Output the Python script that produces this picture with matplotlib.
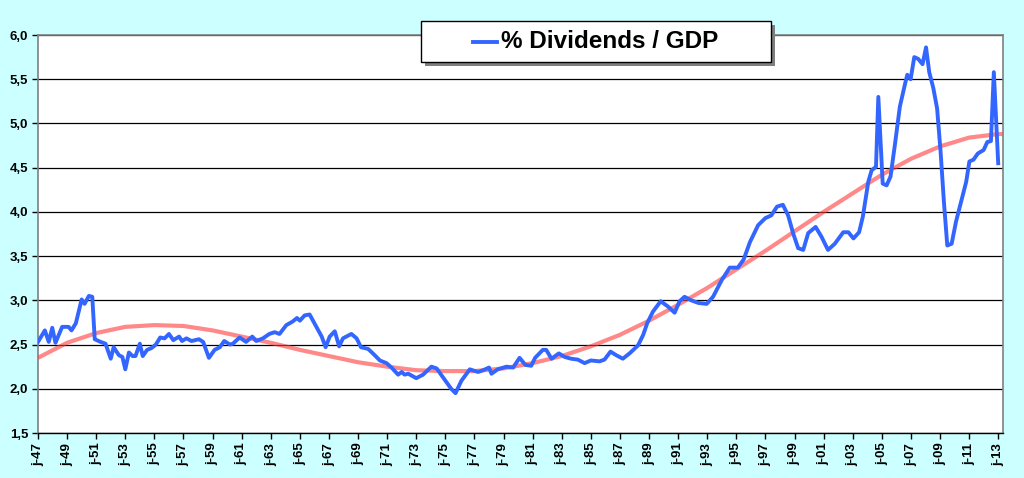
import matplotlib.pyplot as plt
from matplotlib.patches import Rectangle
from matplotlib.lines import Line2D

# blue series (decimal year, % of GDP)
div_years = [
    1947.0, 1947.47, 1947.74, 1947.98, 1948.2, 1948.66, 1949.1, 1949.3, 1949.6,
    1950.0, 1950.2, 1950.5, 1950.73, 1950.9, 1951.3, 1951.64, 1952.0, 1952.2,
    1952.56, 1952.8, 1953.0, 1953.25, 1953.5, 1953.7, 1954.0, 1954.2, 1954.5,
    1954.8, 1955.1, 1955.4, 1955.7, 1956.0, 1956.3, 1956.7, 1956.9, 1957.2,
    1957.55, 1958.06, 1958.35, 1958.75, 1959.14, 1959.5, 1959.8, 1960.2, 1960.4,
    1960.86, 1961.3, 1961.73, 1962.0, 1962.46, 1962.9, 1963.27, 1963.6, 1964.07,
    1964.5, 1964.8, 1965.0, 1965.33, 1965.67, 1966.13, 1966.5, 1966.77, 1967.05,
    1967.4, 1967.7, 1967.96, 1968.54, 1968.9, 1969.2, 1969.7, 1970.14, 1970.5,
    1970.95, 1971.3, 1971.75, 1972.0, 1972.2, 1972.45, 1973.0, 1973.47, 1974.04,
    1974.4, 1974.96, 1975.4, 1975.7, 1976.1, 1976.68, 1977.25, 1977.6, 1978.0,
    1978.17, 1978.6, 1979.2, 1979.66, 1980.1, 1980.5, 1980.9, 1981.17, 1981.7,
    1981.93, 1982.3, 1982.8, 1983.2, 1983.64, 1984.1, 1984.57, 1985.0, 1985.6,
    1985.94, 1986.35, 1986.74, 1987.2, 1987.66, 1988.24, 1988.6, 1988.87, 1989.26,
    1989.8, 1990.3, 1990.76, 1991.1, 1991.44, 1991.9, 1992.4, 1992.96, 1993.4,
    1994.0, 1994.55, 1995.1, 1995.5, 1995.94, 1996.5, 1997.0, 1997.4, 1997.8,
    1998.2, 1998.56, 1998.9, 1999.25, 1999.6, 1999.94, 2000.45, 2000.85, 2001.3,
    2001.77, 2002.35, 2002.7, 2003.05, 2003.44, 2003.7, 2004.07, 2004.3, 2004.6,
    2004.76, 2005.06, 2005.33, 2005.6, 2005.9, 2006.24, 2006.6, 2006.75, 2006.98,
    2007.23, 2007.5, 2007.8, 2008.04, 2008.26, 2008.54, 2008.8, 2009.04, 2009.27,
    2009.5, 2009.8, 2010.1, 2010.5, 2010.8, 2011.02, 2011.3, 2011.6, 2012.0,
    2012.25, 2012.5, 2012.7, 2013.0,
]
div_values = [
    2.53, 2.66, 2.53, 2.69, 2.52, 2.70, 2.70, 2.66, 2.74,
    3.01, 2.96, 3.05, 3.04, 2.56, 2.53, 2.51, 2.34, 2.47,
    2.38, 2.36, 2.22, 2.41, 2.37, 2.37, 2.51, 2.37, 2.44,
    2.46, 2.50, 2.58, 2.57, 2.62, 2.55, 2.59, 2.54, 2.57,
    2.54, 2.56, 2.53, 2.35, 2.44, 2.47, 2.54, 2.50, 2.51,
    2.58, 2.53, 2.59, 2.54, 2.57, 2.62, 2.64, 2.62, 2.72,
    2.76, 2.80, 2.77, 2.83, 2.84, 2.70, 2.59, 2.47, 2.59,
    2.65, 2.48, 2.57, 2.62, 2.57, 2.47, 2.45, 2.38, 2.32,
    2.29, 2.24, 2.16, 2.19, 2.16, 2.17, 2.12, 2.16, 2.25,
    2.23, 2.10, 2.00, 1.95, 2.09, 2.22, 2.19, 2.21, 2.24,
    2.17, 2.22, 2.25, 2.24, 2.35, 2.27, 2.26, 2.35, 2.44,
    2.44, 2.34, 2.40, 2.36, 2.34, 2.33, 2.29, 2.32, 2.31,
    2.33, 2.42, 2.38, 2.34, 2.40, 2.49, 2.61, 2.74, 2.87,
    2.99, 2.93, 2.86, 2.99, 3.04, 3.00, 2.97, 2.96, 3.04,
    3.23, 3.37, 3.37, 3.46, 3.66, 3.85, 3.93, 3.96, 4.06,
    4.08, 3.96, 3.76, 3.59, 3.57, 3.76, 3.83, 3.72, 3.57,
    3.64, 3.77, 3.77, 3.70, 3.77, 3.95, 4.34, 4.47, 4.51,
    5.30, 4.32, 4.30, 4.40, 4.76, 5.19, 5.45, 5.55, 5.50,
    5.75, 5.73, 5.67, 5.86, 5.58, 5.40, 5.17, 4.68, 4.11,
    3.62, 3.64, 3.89, 4.15, 4.34, 4.57, 4.59, 4.66, 4.70,
    4.79, 4.80, 5.58, 4.55,
]

# red trend line, read every two years
trend_years = list(range(1947, 2014, 2)) + [2013.3]
trend_values = [
    2.35, 2.52, 2.63, 2.70, 2.72, 2.71, 2.66, 2.59, 2.52, 2.44, 2.37, 2.30,
    2.25, 2.21, 2.20, 2.20, 2.23, 2.29, 2.37, 2.48, 2.61, 2.77, 2.95, 3.14,
    3.35, 3.56, 3.78, 4.00, 4.21, 4.42, 4.60, 4.74, 4.84, 4.88, 4.88,
]

tick_years = list(range(1947, 2014, 2))
tick_labels = ["j-%02d" % (y % 100) for y in tick_years]
y_ticks = [1.5, 2.0, 2.5, 3.0, 3.5, 4.0, 4.5, 5.0, 5.5, 6.0]
y_labels = [("%.1f" % v).replace(".", ",") for v in y_ticks]

legend_text = "% Dividends / GDP"

plt.rcParams["font.family"] = ["Liberation Sans", "DejaVu Sans"]

W, H = 1024, 478
fig = plt.figure(figsize=(W / 100, H / 100), dpi=100, facecolor="#CCFFFF")
ax = fig.add_axes([38 / W, 1 - 433 / H, (1003 - 38) / W, (433 - 35) / H])
ax.set_facecolor("white")

ax.plot(trend_years, trend_values, color="#FF3B3B", alpha=0.6, lw=3.0,
        solid_capstyle="butt", zorder=3)
ax.plot(div_years, div_values, color="#3366FF", lw=2.8,
        solid_joinstyle="round", zorder=4)

ax.set_xlim(1947, 2013.33)
ax.set_ylim(1.5, 6.0)
ax.set_yticks(y_ticks)
ax.set_yticklabels(y_labels, fontsize=9.5, fontweight="bold")
ax.set_xticks(tick_years)
ax.set_xticklabels(tick_labels, rotation=90, fontsize=9.5, fontweight="bold")
ax.tick_params(axis="both", direction="out", length=4, width=1, color="black",
               pad=3)
ax.yaxis.grid(True, color="black", lw=0.9, zorder=1)
ax.set_axisbelow(True)

for side in ["top", "right", "left"]:
    ax.spines[side].set_color("#808080")
    ax.spines[side].set_linewidth(1.2)
ax.spines["bottom"].set_color("black")
ax.spines["bottom"].set_linewidth(1.0)

# legend box with shadow, drawn in figure pixels
def px(x, y):
    return x / W, 1 - y / H

bx0, by0, bx1, by1 = 421, 21, 771, 62
fig.add_artist(Rectangle(px(bx0 + 4, by1 + 4), (bx1 - bx0) / W, (by1 - by0) / H,
                         transform=fig.transFigure, facecolor="#7f7f7f",
                         edgecolor="none", zorder=10))
fig.add_artist(Rectangle(px(bx0, by1), (bx1 - bx0) / W, (by1 - by0) / H,
                         transform=fig.transFigure, facecolor="white",
                         edgecolor="black", lw=1.0, zorder=11))
lx0, ly = px(473, 41.5)
lx1, _ = px(497, 41.5)
fig.add_artist(Line2D([lx0, lx1], [ly, ly], transform=fig.transFigure,
                      color="#3366FF", lw=2.8, zorder=12))
tx, ty = px(501, 41.5)
fig.text(tx, ty, legend_text, fontsize=17.5, fontweight="bold", va="center",
         ha="left", zorder=12)

fig.savefig("out.png", dpi=100, facecolor=fig.get_facecolor())
